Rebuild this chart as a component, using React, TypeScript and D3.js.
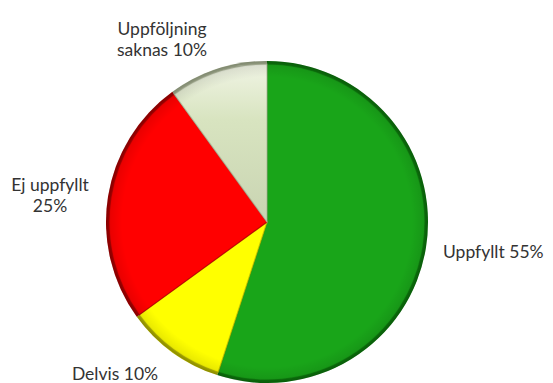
import React from "react";
import * as d3 from "d3";

const categories = ["Uppfyllt", "Delvis", "Ej uppfyllt", "Uppföljning saknas"];
const values = [55, 10, 25, 10];
const colors = ["#19a519", "#ffff00", "#ff0000", "#d5e2bb"];
const edgeColors = ["#0d7a0d", "#b8b800", "#b00000", "#a9b494"];
const labelLines = [["Uppfyllt 55%"], ["Delvis 10%"], ["Ej uppfyllt", "25%"], ["Uppföljning", "saknas 10%"]];

const W = 553, H = 383;
const cx = 267, cy = 222, R = 161;
const labelPos: [number, number, string][] = [
  [443, 258, "start"],
  [115, 380, "middle"],
  [50, 191, "middle"],
  [162, 35, "middle"],
];

export default function App() {
  const pie = d3.pie<number>().sort(null).value((d) => d)(values);
  const arc = d3.arc<d3.PieArcDatum<number>>().innerRadius(0).outerRadius(R);
  const arcInner = d3.arc<d3.PieArcDatum<number>>().innerRadius(0).outerRadius(R - 3);
  return (
    <svg width={W} height={H} style={{ position: "absolute", left: 0, top: 0 }}>
      <defs>
        <radialGradient id="shade" cx={cx} cy={cy} r={R} gradientUnits="userSpaceOnUse">
          <stop offset="0.9" stopColor="#000" stopOpacity={0} />
          <stop offset="0.97" stopColor="#000" stopOpacity={0.08} />
          <stop offset="1" stopColor="#000" stopOpacity={0.25} />
        </radialGradient>
        <linearGradient id="beige" x1="0" y1="0" x2="0" y2="1">
          <stop offset="0" stopColor="#f0f4e4" />
          <stop offset="0.35" stopColor="#d8e4c0" />
          <stop offset="1" stopColor="#c9d4b2" />
        </linearGradient>
      </defs>
      <rect width={W} height={H} fill="#fff" />
      <g transform={`translate(${cx},${cy})`}>
        {pie.map((p, i) => (
          <g key={categories[i]}>
            <path d={arc(p) || ""} fill={edgeColors[i]} />
            <path d={arcInner(p) || ""} fill={i === 3 ? "url(#beige)" : colors[i]} stroke={edgeColors[i]} strokeWidth={1.2} strokeOpacity={0.7} />
          </g>
        ))}
      </g>
      <circle cx={cx} cy={cy} r={R} fill="url(#shade)" />
      {labelLines.map((lines, i) => (
        <text
          key={categories[i]}
          x={labelPos[i][0]}
          y={labelPos[i][1]}
          textAnchor={labelPos[i][2] as any}
          fill="#333"
          fontFamily="Lato, 'Open Sans', sans-serif"
          fontSize={17.5}
        >
          {lines.map((l, j) => (
            <tspan key={j} x={labelPos[i][0]} dy={j === 0 ? 0 : 21}>
              {l}
            </tspan>
          ))}
        </text>
      ))}
    </svg>
  );
}
